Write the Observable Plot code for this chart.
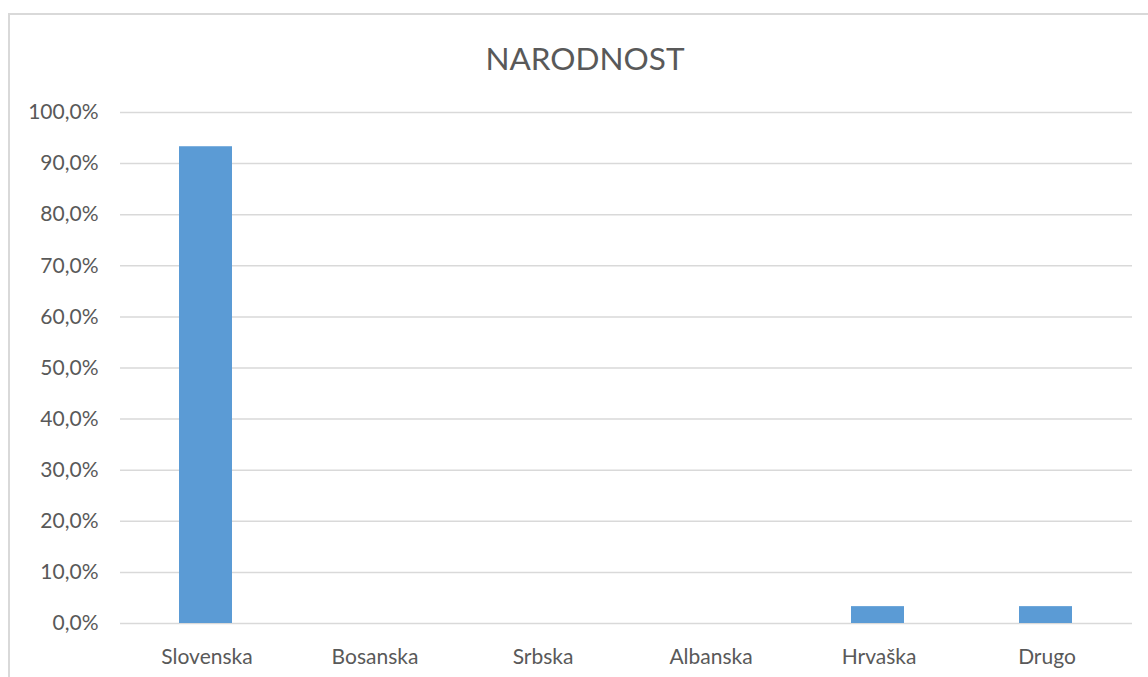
<!DOCTYPE html>
<html>
<head>
<meta charset="utf-8">
<script src="https://cdn.jsdelivr.net/npm/d3@7"></script>
<script src="https://cdn.jsdelivr.net/npm/@observablehq/plot@0.6"></script>
<style>
  html, body { margin: 0; padding: 0; background: #fff; overflow: hidden; }
  #frame { position: absolute; left: 8px; top: 13px; width: 1200px; height: 700px;
           border-left: 2px solid #d9d9d9; border-top: 2px solid #d9d9d9; }
  #wrap { position: absolute; left: 0; top: 0; width: 1148px; }
  #title { height: 90px; line-height: 32px; padding-top: 42px; text-align: center;
           font-family: Lato, "Open Sans", sans-serif; font-size: 31.5px; color: #595959;
           padding-left: 22px; box-sizing: border-box; }
  svg { display: block; }
</style>
</head>
<body>
<div id="frame"></div>
<div id="wrap">
  <div id="title">NARODNOST</div>
  <div id="chart"></div>
</div>
<script>
const categories = ["Slovenska", "Bosanska", "Srbska", "Albanska", "Hrvaška", "Drugo"];
const values = [93.3, 0, 0, 0, 3.3, 3.3];
const yTicks = [0, 10, 20, 30, 40, 50, 60, 70, 80, 90, 100];

const data = categories.map((c, i) => ({category: c, value: values[i]}));
const fmt = d => d.toFixed(1).replace(".", ",") + "%";

const chart = Plot.plot({
  width: 1148,
  height: 587,
  marginLeft: 120,
  marginRight: 16,
  marginTop: 22,
  marginBottom: 54,
  style: { fontFamily: "Lato, 'Open Sans', sans-serif", fontSize: "21px", color: "#595959", background: "transparent" },
  x: { domain: categories, paddingInner: 0.686, paddingOuter: 0.343, label: null },
  y: { domain: [0, 100], label: null },
  marks: [
    Plot.ruleY(yTicks, { stroke: "#d9d9d9", strokeWidth: 1.5 }),
    Plot.barY(data, { x: "category", y: "value", fill: "#5b9bd5", insetLeft: -1, insetRight: 1 }),
    Plot.axisY(yTicks, { tickSize: 0, tickPadding: 22, tickFormat: fmt, label: null, fill: "#595959", fontSize: 21 }),
    Plot.axisX({ tickSize: 0, tickPadding: 26, label: null, fill: "#595959", fontSize: 21 })
  ]
});
document.getElementById("chart").appendChild(chart);
</script>
</body>
</html>
